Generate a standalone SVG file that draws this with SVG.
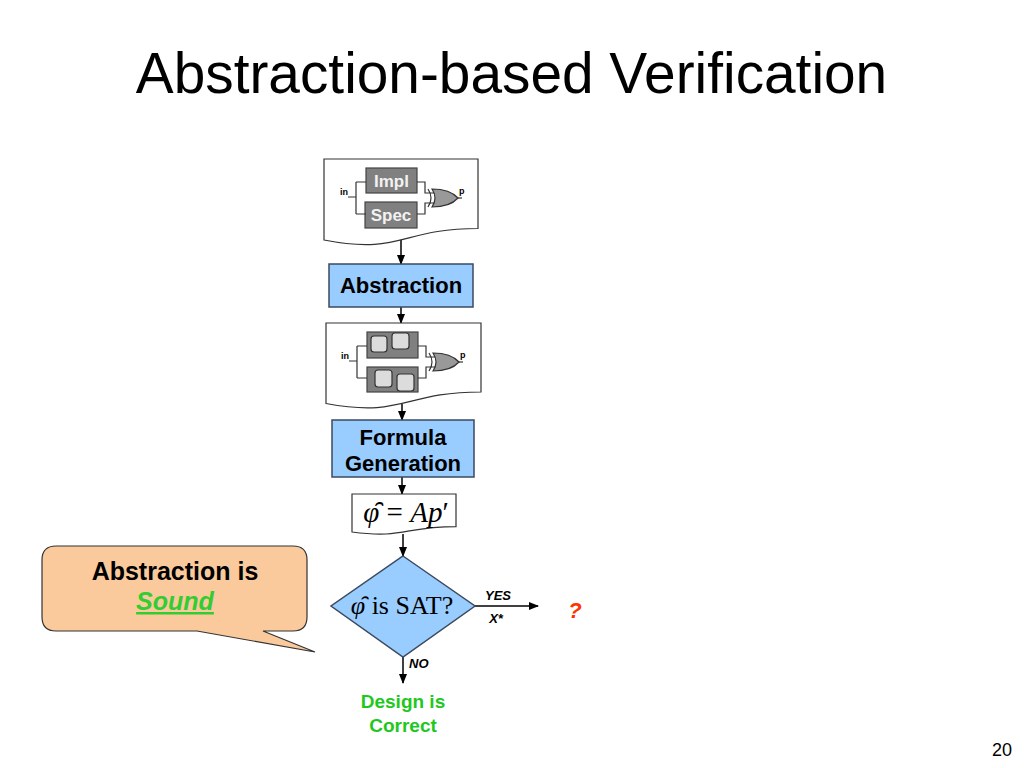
<svg xmlns="http://www.w3.org/2000/svg" width="1024" height="768" viewBox="0 0 1024 768">
<style>
.doc{fill:#fff;stroke:#333;stroke-width:1.2}
.box{fill:#99ccff;stroke:#3b4a60;stroke-width:1.5}
.lbl{font-family:"Liberation Sans",Arial,sans-serif;font-weight:bold;font-size:22px;fill:#000;text-anchor:middle}
.gbox{fill:#808080;stroke:#444;stroke-width:1.2}
.gtxt{font-family:"Liberation Sans",Arial,sans-serif;font-weight:bold;font-size:17px;fill:#f2f2f2;text-anchor:middle}
.wire{fill:none;stroke:#333;stroke-width:1.2}
.gate{fill:#999;stroke:#333;stroke-width:1.2}
.tiny{font-family:"Liberation Sans",Arial,sans-serif;font-weight:bold;font-size:9px;fill:#000}
.sq{fill:#dcdcdc;stroke:#333;stroke-width:1.2}
.conn{stroke:#000;stroke-width:1.5;fill:none}
.math{font-family:"Liberation Serif","Times New Roman",serif;fill:#000}
.small{font-family:"Liberation Sans",Arial,sans-serif;font-weight:bold;font-style:italic;font-size:13px;fill:#000}
.green{font-family:"Liberation Sans",Arial,sans-serif;font-weight:bold;font-size:19px;fill:#1ec81e;text-anchor:middle}
</style>
<defs>
<marker id="ah" markerWidth="10" markerHeight="10" refX="9" refY="5" orient="auto" markerUnits="userSpaceOnUse">
<path d="M0,1 L10,5 L0,9 Z" fill="#000"/>
</marker>
<g id="wiring">
<path class="wire" d="M348,197 H356 M356,182 V214 M356,182 H366 M356,214 H366"/>
<path class="wire" d="M417,182 H425 V193 H435 M417,214 H425 V203 H435"/>
<path class="wire" d="M428,189 Q434,198 428,207"/>
<path class="gate" d="M432,189 Q450,189 458,198 Q450,207 432,207 Q438,198 432,189 Z"/>
<path class="wire" d="M458,198 H462"/>
<text class="tiny" x="340" y="195">in</text>
<text class="tiny" x="459" y="194">p</text>
</g>
</defs>

<text x="511.5" y="93" font-family="Liberation Sans, Arial, sans-serif" font-size="56.8" text-anchor="middle" fill="#000">Abstraction-based Verification</text>

<g id="connectors">
<line class="conn" x1="401" y1="239" x2="401" y2="264" marker-end="url(#ah)"/>
<line class="conn" x1="401" y1="307" x2="401" y2="323" marker-end="url(#ah)"/>
<line class="conn" x1="402" y1="404" x2="402" y2="420" marker-end="url(#ah)"/>
<line class="conn" x1="402" y1="477" x2="402" y2="494" marker-end="url(#ah)"/>
<line class="conn" x1="403" y1="534" x2="403" y2="556" marker-end="url(#ah)"/>
<line class="conn" x1="475" y1="606" x2="538" y2="606" marker-end="url(#ah)"/>
<line class="conn" x1="403" y1="657" x2="403" y2="683" marker-end="url(#ah)"/>
</g>

<g id="doc-impl-spec">
<path class="doc" d="M324,159 H478 V228.5 C401,228.5 401,255 324,240 Z"/>
<rect class="gbox" x="366" y="168" width="51" height="25"/>
<text class="gtxt" x="391.5" y="187">Impl</text>
<rect class="gbox" x="365" y="202" width="52" height="26"/>
<text class="gtxt" x="391" y="221">Spec</text>
<use href="#wiring"/>
</g>

<g id="abstraction">
<rect class="box" x="329" y="264" width="144" height="43"/>
<text class="lbl" x="401" y="293">Abstraction</text>
</g>

<g id="doc-abstract">
<path class="doc" d="M326,323 H481 V392 C403.5,392 403.5,418 326,403.5 Z"/>
<g transform="translate(1,164)">
<rect class="gbox" x="366" y="168" width="51" height="26"/>
<rect class="gbox" x="366" y="203" width="51" height="25"/>
<use href="#wiring"/>
</g>
<rect class="sq" x="371" y="336" width="16" height="16" rx="3"/>
<rect class="sq" x="392" y="333" width="17" height="16" rx="3"/>
<rect class="sq" x="375" y="370" width="17" height="17" rx="3"/>
<rect class="sq" x="397" y="374" width="17" height="17" rx="3"/>
</g>

<g id="formula-generation">
<rect class="box" x="332" y="420" width="142" height="57"/>
<text class="lbl" x="403" y="445">Formula</text>
<text class="lbl" x="403" y="471">Generation</text>
</g>

<g id="formula">
<path class="doc" d="M352,494 H456 V526.6 C404,526.6 404,539 352,532 Z"/>
<text class="math" x="406" y="522" font-size="29" text-anchor="middle"><tspan font-style="italic">φ̑</tspan> = <tspan font-style="italic">Ap</tspan>′</text>
</g>

<g id="decision">
<path class="box" d="M403,556 L475,606 L403,657 L331,606 Z"/>
<text class="math" x="402" y="614" font-size="26" text-anchor="middle"><tspan font-style="italic">φ̑</tspan> is SAT?</text>
</g>

<g id="labels">
<text class="small" x="498" y="600" text-anchor="middle">YES</text>
<text class="small" x="496" y="623" text-anchor="middle">X*</text>
<text class="small" x="409" y="668">NO</text>
</g>

<g id="unknown">
<text x="575" y="618" font-family="Liberation Sans, Arial, sans-serif" font-weight="bold" font-style="italic" font-size="22" fill="#ff3300" text-anchor="middle">?</text>
</g>

<g id="result">
<text class="green" x="403" y="708">Design is</text>
<text class="green" x="403" y="732">Correct</text>
</g>

<g id="callout">
<path d="M56,546 H293 Q307,546 307,560 V617 Q307,631 293,631 H263 L315,652 L197,631 H56 Q42,631 42,617 V560 Q42,546 56,546 Z" fill="#fbca9c" stroke="#333" stroke-width="1.2"/>
<text x="175" y="580" font-family="Liberation Sans, Arial, sans-serif" font-weight="bold" font-size="25" fill="#000" text-anchor="middle">Abstraction is</text>
<text x="175" y="610" font-family="Liberation Sans, Arial, sans-serif" font-weight="bold" font-style="italic" font-size="25" fill="#33cc33" text-anchor="middle" text-decoration="underline">Sound</text>
</g>

<text x="1012" y="756" font-family="Liberation Sans, Arial, sans-serif" font-size="18" fill="#000" text-anchor="end">20</text>
</svg>
